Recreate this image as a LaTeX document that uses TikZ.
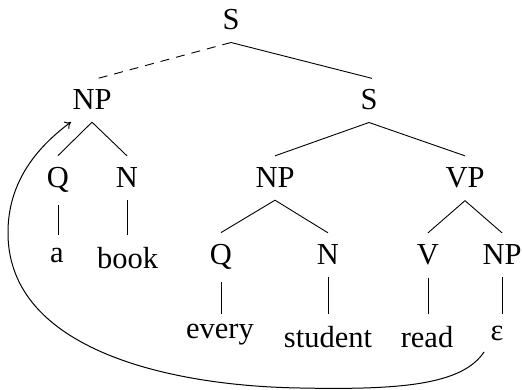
\documentclass[tikz,border=0pt]{standalone}
\usepackage{fontspec}
\setmainfont{Liberation Serif}
\usetikzlibrary{arrows.meta}
\begin{document}
\begin{tikzpicture}[x=1pt,y=-1pt,
  lab/.style={anchor=base, inner xsep=0pt, inner ysep=12pt,
              font=\fontsize{30.5}{36}\selectfont},
  branch/.style={line width=0.9pt},
  trace/.style={line width=1pt, -{To[length=6pt,width=9pt]}},
  ]
\useasboundingbox (0,0) rectangle (522,390);

% tree labels, placed on their baselines
\node[lab] (s0)  at (231,30)  {S};
\node[lab] (np1) at (92,110)  {NP};
\node[lab] (s1)  at (369,110) {S};
\node[lab] (q1)  at (58,188)  {Q};
\node[lab] (n1)  at (127,188) {N};
\node[lab] (np2) at (275,188) {NP};
\node[lab] (vp)  at (465,188) {VP};
\node[lab] (a)   at (57,262)  {a};
\node[lab] (bk)  at (127.5,268) {book};
\node[lab] (q2)  at (221,265) {Q};
\node[lab] (n2)  at (328,265) {N};
\node[lab] (v)   at (428,265) {V};
\node[lab] (np3) at (502,265) {NP};
\node[lab] (ev)  at (220,338) {every};
\node[lab] (st)  at (328,347) {student};
\node[lab] (rd)  at (427,347) {read};
\node[lab] (eps) at (497,340) {ε};

% branches
\draw[branch, dash pattern=on 9pt off 7pt, shorten >=-3pt] (s0.south) -- ([xshift=8pt]np1.north);
\draw[branch, shorten >=-3pt] (s0.south) -- (s1.north);
\draw[branch] (np1.south) -- (q1.north);
\draw[branch] (np1.south) -- (n1.north);
\draw[branch] (s1.south) -- (np2.north);
\draw[branch] (s1.south) -- (vp.north);
\draw[branch] (q1.south) -- (q1.south |- a.north);
\draw[branch] (n1.south) -- (n1.south |- bk.north);
\draw[branch] (np2.south) -- (q2.north);
\draw[branch] (np2.south) -- (n2.north);
\draw[branch] (vp.south) -- (v.north);
\draw[branch] (vp.south) -- (np3.north);
\draw[branch] (q2.south) -- (q2.south |- st.north);
\draw[branch] (n2.south) -- (n2.south |- st.north);
\draw[branch] (v.south) -- (v.south |- rd.north);
\draw[branch] (np3.south) -- (np3.south |- st.north);

% movement arrow from the trace back to the raised NP
\coordinate (tail) at (484,352);
\coordinate (head) at (71,122);
\draw[trace] (tail) .. controls (462,385) and (400,390) .. (300,388)
  .. controls (170,386) and (10,350) .. (8,235)
  .. controls (7,180) and (40,145) .. (head);
\end{tikzpicture}
\end{document}
